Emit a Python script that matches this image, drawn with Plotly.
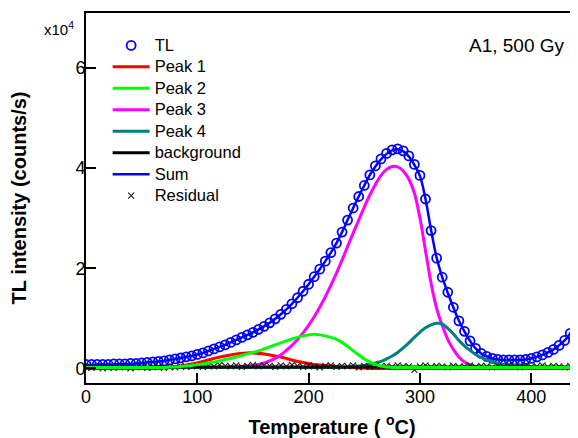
import plotly.graph_objects as go

temperature = [0, 5, 10, 15, 20, 25, 30, 35, 40, 45, 50, 55, 60, 65, 70, 75, 80, 85, 90, 95,
               100, 105, 110, 115, 120, 125, 130, 135, 140, 145, 150, 155, 160, 165, 170, 175, 180, 185, 190, 195,
               200, 205, 210, 215, 220, 225, 230, 235, 240, 245, 250, 255, 260, 265, 270, 275, 280, 285, 290, 295,
               300, 305, 310, 315, 320, 325, 330, 335, 340, 345, 350, 355, 360, 365, 370, 375, 380, 385, 390, 395,
               400, 405, 410, 415, 420, 425, 430, 435, 440]

# intensities in units of 10^4 counts/s
tl = [0.08, 0.08, 0.08, 0.08, 0.08, 0.09, 0.09, 0.09, 0.10, 0.10, 0.11, 0.12, 0.13, 0.14, 0.15, 0.17, 0.19, 0.21, 0.23, 0.25,
      0.28, 0.31, 0.35, 0.39, 0.43, 0.47, 0.52, 0.57, 0.62, 0.67, 0.72, 0.78, 0.84, 0.91, 0.99, 1.08, 1.18, 1.29, 1.41, 1.54,
      1.68, 1.83, 1.98, 2.14, 2.31, 2.50, 2.72, 2.96, 3.20, 3.43, 3.65, 3.86, 4.04, 4.18, 4.29, 4.36, 4.38, 4.34, 4.24, 4.07,
      3.85, 3.38, 2.75, 2.20, 1.82, 1.52, 1.22, 0.95, 0.74, 0.55, 0.40, 0.30, 0.24, 0.20, 0.18, 0.17, 0.17, 0.17, 0.17, 0.18,
      0.20, 0.23, 0.27, 0.32, 0.38, 0.46, 0.56, 0.70, 0.92]

total = [0.07, 0.07, 0.08, 0.08, 0.08, 0.08, 0.09, 0.09, 0.09, 0.10, 0.11, 0.12, 0.13, 0.14, 0.15, 0.17, 0.19, 0.21, 0.23, 0.25,
         0.28, 0.31, 0.35, 0.39, 0.43, 0.47, 0.52, 0.57, 0.62, 0.67, 0.72, 0.78, 0.84, 0.91, 0.99, 1.08, 1.18, 1.29, 1.41, 1.54,
         1.68, 1.83, 1.98, 2.14, 2.31, 2.50, 2.72, 2.96, 3.20, 3.43, 3.65, 3.86, 4.03, 4.17, 4.28, 4.35, 4.37, 4.33, 4.23, 4.06,
         3.84, 3.38, 2.76, 2.21, 1.82, 1.51, 1.22, 0.95, 0.74, 0.55, 0.40, 0.30, 0.24, 0.20, 0.18, 0.17, 0.17, 0.17, 0.17, 0.18,
         0.20, 0.23, 0.27, 0.32, 0.38, 0.46, 0.56, 0.70, 0.93]

peak1 = [0, 0, 0, 0, 0, 0, 0, 0, 0, 0, 0, 0, 0, 0, 0.01, 0.02, 0.03, 0.05, 0.07, 0.09,
         0.11, 0.14, 0.17, 0.20, 0.23, 0.25, 0.27, 0.29, 0.30, 0.31, 0.31, 0.30, 0.29, 0.27, 0.25, 0.23, 0.20, 0.17, 0.14, 0.12,
         0.10, 0.08, 0.07, 0.06, 0.05, 0.04, 0.03, 0.02, 0.02, 0.01, 0.01, 0, 0, 0, 0, 0, 0, 0, 0, 0,
         0, 0, 0, 0, 0, 0, 0, 0, 0, 0, 0, 0, 0, 0, 0, 0, 0, 0, 0, 0,
         0, 0, 0, 0, 0, 0, 0, 0, 0]

peak2 = [0.02, 0.02, 0.02, 0.02, 0.02, 0.02, 0.02, 0.02, 0.02, 0.02, 0.02, 0.02, 0.02, 0.02, 0.02, 0.03, 0.03, 0.04, 0.05, 0.06,
         0.08, 0.09, 0.11, 0.13, 0.15, 0.18, 0.20, 0.23, 0.26, 0.29, 0.32, 0.35, 0.39, 0.43, 0.47, 0.51, 0.55, 0.59, 0.62, 0.65,
         0.67, 0.68, 0.67, 0.65, 0.62, 0.58, 0.52, 0.44, 0.35, 0.27, 0.19, 0.13, 0.08, 0.05, 0.03, 0.02, 0.02, 0.02, 0.02, 0.02,
         0.02, 0.02, 0.02, 0.02, 0.02, 0.02, 0.02, 0.02, 0.02, 0.02, 0.02, 0.02, 0.02, 0.02, 0.02, 0.02, 0.02, 0.02, 0.02, 0.02,
         0.02, 0.02, 0.02, 0.02, 0.02, 0.02, 0.02, 0.02, 0.02]

peak3 = [0.02, 0.02, 0.02, 0.02, 0.02, 0.02, 0.02, 0.02, 0.02, 0.02, 0.02, 0.02, 0.02, 0.02, 0.02, 0.02, 0.02, 0.02, 0.02, 0.02,
         0.02, 0.02, 0.02, 0.02, 0.02, 0.02, 0.03, 0.03, 0.04, 0.05, 0.06, 0.08, 0.11, 0.15, 0.20, 0.27, 0.36, 0.46, 0.58, 0.71,
         0.86, 1.03, 1.22, 1.43, 1.66, 1.90, 2.16, 2.43, 2.70, 2.96, 3.22, 3.46, 3.67, 3.85, 3.97, 4.03, 4.02, 3.94, 3.78, 3.50,
         3.00, 2.35, 1.70, 1.20, 0.86, 0.58, 0.38, 0.23, 0.13, 0.07, 0.04, 0.02, 0.02, 0.02, 0.02, 0.02, 0.02, 0.02, 0.02, 0.02,
         0.02, 0.02, 0.02, 0.02, 0.02, 0.02, 0.02, 0.02, 0.02]

peak4 = [0.02, 0.02, 0.02, 0.02, 0.02, 0.02, 0.02, 0.02, 0.02, 0.02, 0.02, 0.02, 0.02, 0.02, 0.02, 0.02, 0.02, 0.02, 0.02, 0.02,
         0.02, 0.02, 0.02, 0.02, 0.02, 0.02, 0.02, 0.02, 0.02, 0.02, 0.02, 0.02, 0.02, 0.02, 0.02, 0.02, 0.02, 0.02, 0.02, 0.02,
         0.02, 0.02, 0.02, 0.02, 0.02, 0.02, 0.02, 0.03, 0.04, 0.05, 0.06, 0.08, 0.11, 0.14, 0.19, 0.25, 0.32, 0.41, 0.51, 0.62,
         0.72, 0.81, 0.87, 0.90, 0.89, 0.80, 0.69, 0.56, 0.45, 0.36, 0.28, 0.22, 0.17, 0.13, 0.10, 0.08, 0.07, 0.06, 0.05, 0.04,
         0.03, 0.02, 0.02, 0.02, 0.02, 0.02, 0.02, 0.02, 0.02]

background = [0.03] * 89

residual = [0.02, 0.01, 0.03, 0.00, 0.02, 0.01, 0.03, 0.02, 0.00, 0.02,
            0.03, 0.01, 0.02, 0.04, 0.01, 0.03, 0.02, 0.05, 0.03, 0.04,
            0.06, 0.03, 0.05, 0.04, 0.07, 0.05, 0.04, 0.06, 0.03, 0.05,
            0.07, 0.04, 0.06, 0.05, 0.03, 0.06, 0.04, 0.07, 0.05, 0.03,
            0.06, 0.04, 0.02, 0.05, 0.06, 0.03, 0.05, 0.04, 0.06, 0.02,
            0.05, 0.03, 0.06, 0.04, 0.05, 0.03, 0.06, 0.04, 0.04, -0.03,
            0.04, 0.06, 0.03, 0.05, 0.04, 0.02, 0.05, 0.03, 0.04, 0.06,
            0.03, 0.05, 0.04, 0.02, 0.05, 0.03, 0.06, 0.04, 0.02, 0.05,
            0.03, 0.04, 0.06, 0.03, 0.05, 0.04, 0.02, 0.05, 0.03]

x_ticks = [0, 100, 200, 300, 400]
y_ticks = [0, 2, 4, 6]
y_ticktext = ["0", "2", "4", "6"]

FONT = "Liberation Sans, Arial, sans-serif"


def lg(name):
    # legend label drawn at 16.5px while row spacing follows the smaller legend font size
    return "<span style='font-size:16.5px'>" + name + "</span>"


fig = go.Figure()
fig.add_trace(go.Scatter(x=temperature, y=tl, mode="markers", name=lg("TL"), legendrank=1,
                         marker=dict(symbol="circle-open", size=9, color="#0000ff", line=dict(width=1.8, color="#0000ff"))))
fig.add_trace(go.Scatter(x=temperature, y=total, mode="lines", name=lg("Sum"), legendrank=7,
                         line=dict(color="#0000ff", width=2.5, shape="spline")))
fig.add_trace(go.Scatter(x=temperature, y=peak1, mode="lines", name=lg("Peak 1"), legendrank=2,
                         line=dict(color="#ff0000", width=3, shape="spline")))
fig.add_trace(go.Scatter(x=temperature, y=peak3, mode="lines", name=lg("Peak 3"), legendrank=4,
                         line=dict(color="#ff00ff", width=3, shape="spline")))
fig.add_trace(go.Scatter(x=temperature, y=peak4, mode="lines", name=lg("Peak 4"), legendrank=5,
                         line=dict(color="#008080", width=3, shape="spline")))
fig.add_trace(go.Scatter(x=temperature, y=background, mode="lines", name=lg("background"), legendrank=6,
                         line=dict(color="#000000", width=3)))
fig.add_trace(go.Scatter(x=temperature, y=residual, mode="markers", name=lg("Residual"), legendrank=8,
                         marker=dict(symbol="x-thin-open", size=6, color="#1a1a1a", line=dict(width=1.1, color="#1a1a1a"))))
fig.add_trace(go.Scatter(x=temperature, y=peak2, mode="lines", name=lg("Peak 2"), legendrank=3,
                         line=dict(color="#00ff00", width=3, shape="spline")))

# the page body has an 8 px margin: the figure is 570x430 so that the plot area sits at x 86..578, y 13..383
fig.update_layout(
    width=570, height=430,
    margin=dict(l=78, r=0, t=5, b=55),
    paper_bgcolor="white", plot_bgcolor="white",
    font=dict(family=FONT, color="black"),
    showlegend=True,
    legend=dict(x=0.044, y=0.955, xanchor="left", yanchor="top", bgcolor="rgba(0,0,0,0)",
                font=dict(size=14.2, family=FONT), itemwidth=37, tracegroupgap=0),
    xaxis=dict(range=[0, 442], tickvals=x_ticks, ticks="inside", ticklen=10, tickwidth=1.5, tickcolor="black",
               showline=True, linewidth=2, linecolor="black", mirror=True, showgrid=False, zeroline=False,
               tickfont=dict(size=18, family=FONT), ticklabelstandoff=-4,
               title=dict(text="Temperature ( <sup>o</sup>C)", font=dict(size=20, family=FONT, weight="bold"), standoff=14)),
    yaxis=dict(range=[-0.29, 7.09], tickvals=y_ticks, ticktext=y_ticktext, ticks="inside", ticklen=10, tickwidth=1.5,
               tickcolor="black", showline=True, linewidth=2, linecolor="black", showgrid=False, zeroline=False,
               tickfont=dict(size=18, family=FONT), ticklabelstandoff=-5,
               title=dict(text="TL intensity (counts/s)", font=dict(size=20, family=FONT, weight="bold"), standoff=43)),
    annotations=[
        dict(text="A1, 500 Gy", xref="paper", yref="paper", x=0.978, y=0.911, xanchor="right", yanchor="middle",
             showarrow=False, font=dict(size=19, family=FONT)),
        dict(text="x10<sup>4</sup>", xref="paper", yref="paper", x=-0.09, y=0.958, xanchor="left", yanchor="middle",
             showarrow=False, font=dict(size=15, family=FONT)),
    ],
)

fig.write_html("out.html")
